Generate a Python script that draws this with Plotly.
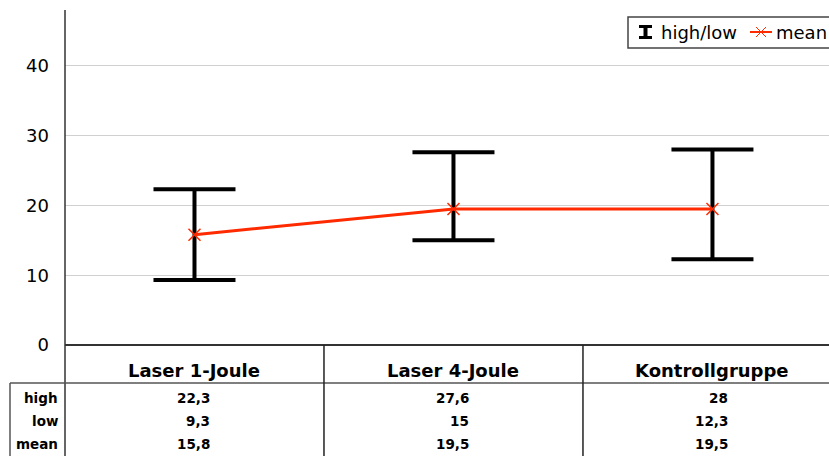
import plotly.graph_objects as go

# Measurement summary per group
categories = ["Laser 1-Joule", "Laser 4-Joule", "Kontrollgruppe"]
high = [22.3, 27.6, 28]
low = [9.3, 15, 12.3]
mean = [15.8, 19.5, 19.5]
row_labels = ["high", "low", "mean"]
y_ticks = [0, 10, 20, 30, 40]

W, H = 829, 456
ML, MR, MT, MB = 65, 0, 10, 111
PW, PH = W - ML - MR, H - MT - MB
FONT = "DejaVu Sans"
RED = "#ff2a00"


def px_x(px):
    return (px - ML) / PW


def px_y(py):
    return (H - MB - py) / PH


def de(v):
    return f"{v:g}".replace(".", ",")


fig = go.Figure()

# high/low range bars
fig.add_trace(go.Scatter(
    x=categories, y=mean, mode="markers",
    marker=dict(size=1, color="rgba(0,0,0,0)"),
    error_y=dict(type="data", symmetric=False,
                 array=[h - m for h, m in zip(high, mean)],
                 arrayminus=[m - l for m, l in zip(mean, low)],
                 color="black", thickness=4, width=41),
    showlegend=False, hoverinfo="skip",
))

# mean line
fig.add_trace(go.Scatter(
    x=categories, y=mean, mode="lines+markers",
    line=dict(color=RED, width=3),
    marker=dict(symbol="x-thin", size=12, line=dict(color=RED, width=1.5)),
    showlegend=False,
))

shapes = []
# axis frame and table grid
shapes.append(dict(type="line", xref="paper", yref="paper",
                   x0=0, x1=0, y0=px_y(H), y1=1,
                   line=dict(color="#333", width=1.5)))
shapes.append(dict(type="line", xref="paper", yref="paper",
                   x0=0, x1=1, y0=0, y1=0,
                   line=dict(color="#333", width=2)))
shapes.append(dict(type="line", xref="paper", yref="paper",
                   x0=px_x(10), x1=1, y0=px_y(383), y1=px_y(383),
                   line=dict(color="#555", width=1.5)))
shapes.append(dict(type="line", xref="paper", yref="paper",
                   x0=px_x(10), x1=px_x(10), y0=px_y(H), y1=px_y(383),
                   line=dict(color="#555", width=1.5)))
for i in range(len(categories) - 1):
    shapes.append(dict(type="line", xref="x", yref="paper",
                       x0=i + 0.5, x1=i + 0.5, y0=px_y(H), y1=0,
                       line=dict(color="#222", width=1.5)))

# legend box
shapes.append(dict(type="rect", xref="paper", yref="paper",
                   x0=px_x(628), x1=px_x(840), y0=px_y(48), y1=px_y(17),
                   line=dict(color="#444", width=1.5), fillcolor="white"))
# legend range-bar icon
ly = 32
shapes.append(dict(type="line", xref="paper", yref="paper",
                   x0=px_x(645.5), x1=px_x(645.5), y0=px_y(38), y1=px_y(26),
                   line=dict(color="black", width=4)))
for yy in (26.5, 37.5):
    shapes.append(dict(type="line", xref="paper", yref="paper",
                       x0=px_x(639), x1=px_x(652), y0=px_y(yy), y1=px_y(yy),
                       line=dict(color="black", width=3)))
# legend mean icon
shapes.append(dict(type="line", xref="paper", yref="paper",
                   x0=px_x(750), x1=px_x(772), y0=px_y(ly), y1=px_y(ly),
                   line=dict(color=RED, width=2)))
for d in (1, -1):
    shapes.append(dict(type="line", xref="paper", yref="paper",
                       x0=px_x(756), x1=px_x(766),
                       y0=px_y(ly - 5 * d), y1=px_y(ly + 5 * d),
                       line=dict(color=RED, width=1)))

annotations = [
    dict(text="high/low", xref="paper", yref="paper", x=px_x(659), y=px_y(ly),
         xanchor="left", yanchor="middle", showarrow=False,
         font=dict(family=FONT, size=18, color="black")),
    dict(text="mean", xref="paper", yref="paper", x=px_x(774), y=px_y(ly),
         xanchor="left", yanchor="middle", showarrow=False,
         font=dict(family=FONT, size=18, color="black")),
]

# table header
for c in categories:
    annotations.append(dict(text=f"<b>{c}</b>", xref="x", yref="paper",
                            x=c, y=px_y(370), xanchor="center", yanchor="middle",
                            showarrow=False,
                            font=dict(family=FONT, size=18, color="black")))

# table rows
row_y = [398, 421, 444]
for lab, vals, ry in zip(row_labels, [high, low, mean], row_y):
    annotations.append(dict(text=f"<b>{lab}</b>", xref="paper", yref="paper",
                            x=px_x(60), y=px_y(ry), xanchor="right", yanchor="middle",
                            showarrow=False,
                            font=dict(family=FONT, size=13.5, color="black")))
    for c, v in zip(categories, vals):
        annotations.append(dict(text=f"<b>{de(v)}</b>", xref="x", yref="paper",
                                x=c, y=px_y(ry), xanchor="right", yanchor="middle",
                                xshift=18, showarrow=False,
                                font=dict(family=FONT, size=13.5, color="black")))

fig.update_layout(
    width=W, height=H,
    margin=dict(l=ML, r=MR, t=MT, b=MB, pad=0),
    paper_bgcolor="white", plot_bgcolor="white",
    showlegend=False,
    shapes=shapes, annotations=annotations,
    xaxis=dict(type="category", range=[-0.5, 2.45], showticklabels=False,
               showgrid=False, zeroline=False, showline=False, fixedrange=True),
    yaxis=dict(range=[0, 48], tickvals=y_ticks, ticktext=[str(t) for t in y_ticks],
               showgrid=True, gridcolor="#d0d0d0", gridwidth=1.2,
               zeroline=False, showline=False, ticks="", ticklabelstandoff=15,
               tickfont=dict(family=FONT, size=18, color="black"), fixedrange=True),
)

fig.write_html("out.html")
